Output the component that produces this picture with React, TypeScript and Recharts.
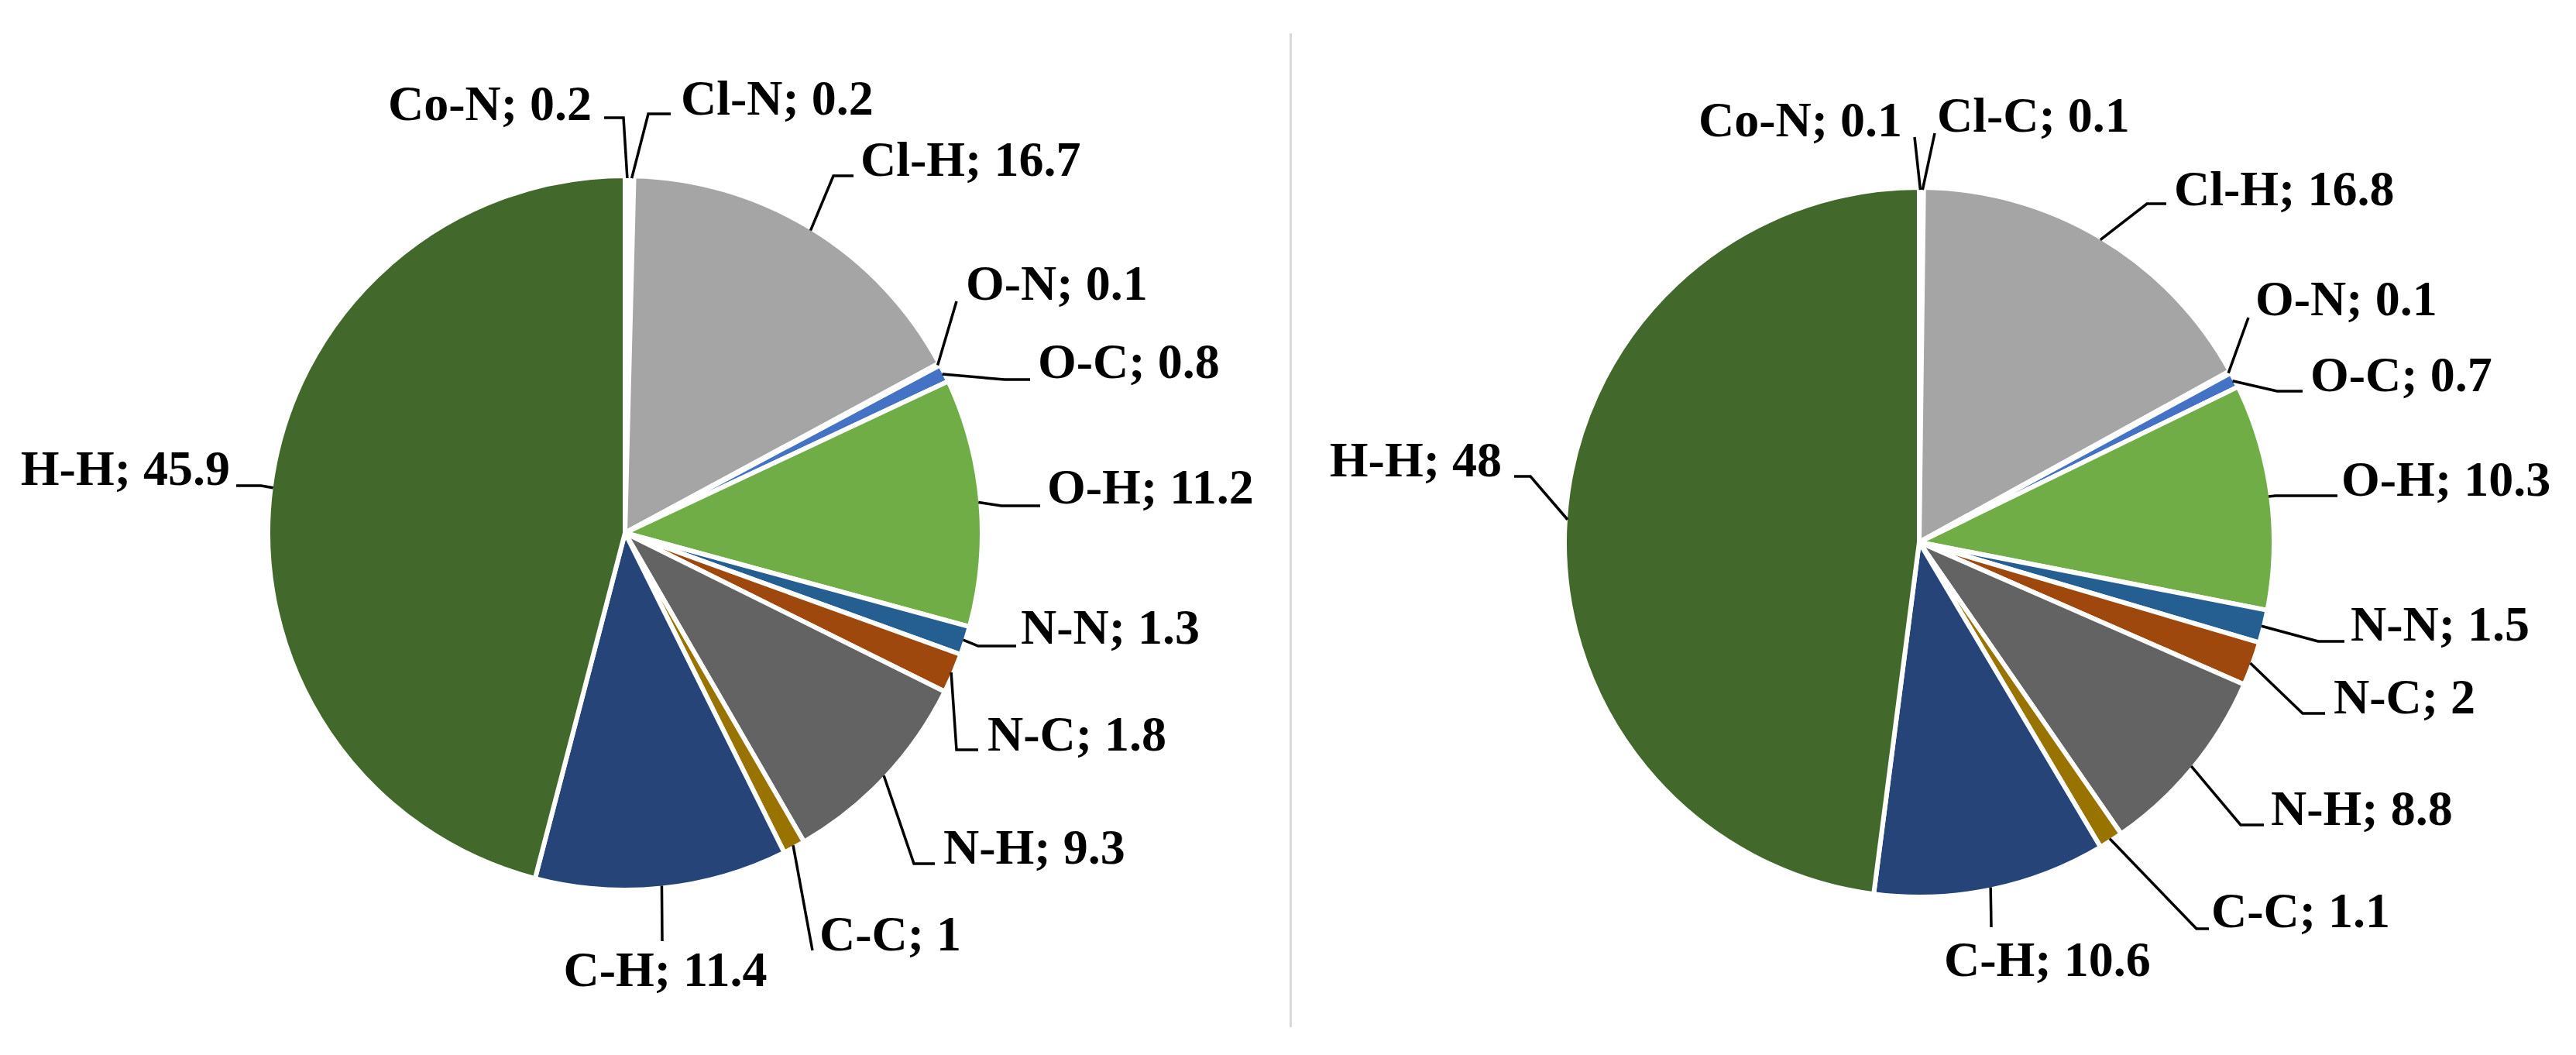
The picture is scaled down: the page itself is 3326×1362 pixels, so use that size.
import { PieChart, Pie, Cell } from "recharts"

// bond-type shares, slices run clockwise from 12 o'clock
const LEFT_NAMES = ["Co-N", "Cl-N", "Cl-H", "O-N", "O-C", "O-H", "N-N", "N-C", "N-H", "C-C", "C-H", "H-H"]
const LEFT_VALUES = [0.2, 0.2, 16.7, 0.1, 0.8, 11.2, 1.3, 1.8, 9.3, 1, 11.4, 45.9]

const RIGHT_NAMES = ["Co-N", "Cl-C", "Cl-H", "O-N", "O-C", "O-H", "N-N", "N-C", "N-H", "C-C", "C-H", "H-H"]
const RIGHT_VALUES = [0.1, 0.1, 16.8, 0.1, 0.7, 10.3, 1.5, 2, 8.8, 1.1, 10.6, 48]

const SLICE_COLORS = [
  "#4472C4", "#ED7D31", "#A5A5A5", "#FFC000", "#4472C4", "#70AD47",
  "#255E91", "#9E480E", "#636363", "#997300", "#264478", "#43682B",
]

type Anchor = "start" | "middle" | "end"

interface LabelPos {
  tx: number
  ty: number
  anchor: Anchor
  lx: number
  ly: number
  h: number
}

// label placement relative to the pie centre (text baseline, leader end, elbow length)
const LEFT_LABELS: LabelPos[] = [
  { tx: -43, ty: -533, anchor: "end", lx: -27, ly: -536, h: 25 },
  { tx: 72, ty: -540, anchor: "start", lx: 59, ly: -541, h: 29 },
  { tx: 304, ty: -461, anchor: "start", lx: 295, ly: -461, h: 26 },
  { tx: 440, ty: -301, anchor: "start", lx: 428, ly: -299, h: 0 },
  { tx: 533, ty: -200, anchor: "start", lx: 523, ly: -198, h: 33 },
  { tx: 545, ty: -38, anchor: "start", lx: 536, ly: -35, h: 50 },
  { tx: 511, ty: 143, anchor: "start", lx: 505, ly: 146, h: 49 },
  { tx: 468, ty: 281, anchor: "start", lx: 456, ly: 280, h: 28 },
  { tx: 411, ty: 427, anchor: "start", lx: 400, ly: 427, h: 27 },
  { tx: 251, ty: 539, anchor: "start", lx: 242, ly: 539, h: 0 },
  { tx: 52, ty: 585, anchor: "middle", lx: 48, ly: 527, h: 0 },
  { tx: -510, ty: -62, anchor: "end", lx: -502, ly: -61, h: 32 },
]

const RIGHT_LABELS: LabelPos[] = [
  { tx: -22, ty: -524, anchor: "end", lx: -6, ly: -523, h: 0 },
  { tx: 23, ty: -530, anchor: "start", lx: 20, ly: -528, h: 0 },
  { tx: 329, ty: -435, anchor: "start", lx: 319, ly: -437, h: 25 },
  { tx: 434, ty: -293, anchor: "start", lx: 425, ly: -290, h: 0 },
  { tx: 505, ty: -195, anchor: "start", lx: 495, ly: -195, h: 33 },
  { tx: 545, ty: -60, anchor: "start", lx: 540, ly: -60, h: 80 },
  { tx: 557, ty: 127, anchor: "start", lx: 549, ly: 128, h: 34 },
  { tx: 535, ty: 221, anchor: "start", lx: 524, ly: 221, h: 29 },
  { tx: 454, ty: 365, anchor: "start", lx: 445, ly: 365, h: 30 },
  { tx: 377, ty: 497, anchor: "start", lx: 374, ly: 499, h: 16 },
  { tx: 32, ty: 560, anchor: "start", lx: 93, ly: 497, h: 0 },
  { tx: -539, ty: -85, anchor: "end", lx: -523, ly: -85, h: 21 },
]

const RAD = Math.PI / 180
const SLICE_GAP = 6

const LABEL_STYLE: React.CSSProperties = {
  fontFamily: "'Liberation Serif', 'Times New Roman', serif",
  fontWeight: 700,
  fontSize: 64,
}

function makeLabel(layout: LabelPos[], names: string[], values: number[]) {
  return (props: any) => {
    const { cx, cy, midAngle, outerRadius, index } = props
    const pos = layout[index]
    const r = outerRadius - SLICE_GAP / 2
    const sx = cx + r * Math.cos(-midAngle * RAD)
    const sy = cy + r * Math.sin(-midAngle * RAD)
    const ex = cx + pos.lx
    const ey = cy + pos.ly
    const bx = pos.anchor === "end" ? ex + pos.h : ex - pos.h
    return (
      <g key={`label-${index}`}>
        <polyline
          points={`${sx},${sy} ${bx},${ey} ${ex},${ey}`}
          fill="none"
          stroke="#000"
          strokeWidth={3.5}
        />
        <text
          x={cx + pos.tx}
          y={cy + pos.ty}
          textAnchor={pos.anchor}
          fill="#000"
          style={LABEL_STYLE}
        >
          {`${names[index]}; ${values[index]}`}
        </text>
      </g>
    )
  }
}

const leftData = LEFT_NAMES.map((name, i) => ({ name, value: LEFT_VALUES[i] }))
const rightData = RIGHT_NAMES.map((name, i) => ({ name, value: RIGHT_VALUES[i] }))

export default function App() {
  return (
    <div style={{ position: "absolute", left: 0, top: 0, width: 3326, height: 1362, background: "#fff" }}>
      <PieChart width={3326} height={1362} margin={{ top: 0, right: 0, bottom: 0, left: 0 }}>
        <Pie
          data={leftData}
          dataKey="value"
          nameKey="name"
          cx={807}
          cy={688}
          outerRadius={461}
          startAngle={90}
          endAngle={-270}
          stroke="#fff"
          strokeWidth={SLICE_GAP}
          label={makeLabel(LEFT_LABELS, LEFT_NAMES, LEFT_VALUES)}
          labelLine={false}
          isAnimationActive={false}
        >
          {leftData.map((d, i) => (
            <Cell key={d.name} fill={SLICE_COLORS[i]} />
          ))}
        </Pie>
        <Pie
          data={rightData}
          dataKey="value"
          nameKey="name"
          cx={2478}
          cy={700}
          outerRadius={458}
          startAngle={90}
          endAngle={-270}
          stroke="#fff"
          strokeWidth={SLICE_GAP}
          label={makeLabel(RIGHT_LABELS, RIGHT_NAMES, RIGHT_VALUES)}
          labelLine={false}
          isAnimationActive={false}
        >
          {rightData.map((d, i) => (
            <Cell key={d.name} fill={SLICE_COLORS[i]} />
          ))}
        </Pie>
      </PieChart>
      <div
        style={{
          position: "absolute",
          left: 1665,
          top: 43,
          width: 3,
          height: 1283,
          background: "#D9D9D9",
        }}
      />
    </div>
  )
}
